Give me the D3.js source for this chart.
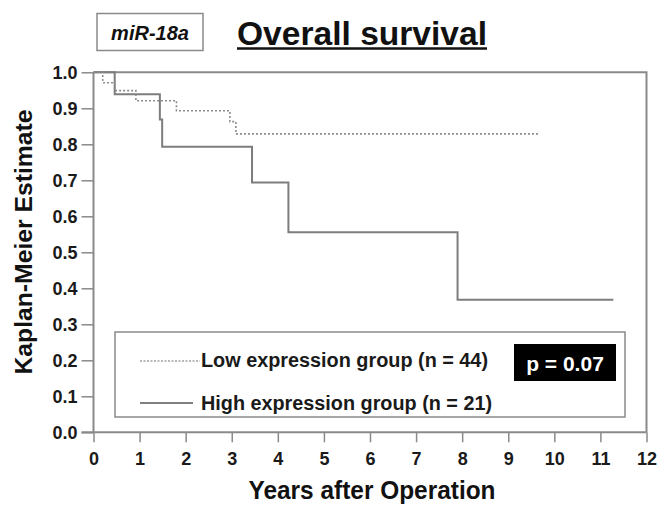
<!DOCTYPE html>
<html>
<head>
<meta charset="utf-8">
<script src="https://cdn.jsdelivr.net/npm/d3@7"></script>
<style>
  body { margin: 0; background: #fff; }
  text { font-family: "Liberation Sans", Arial, sans-serif; }
</style>
</head>
<body>
<svg id="km" width="661" height="506"></svg>
<script>
// step points (time in years, survival)
const lowTimes = [0, 0.20, 0.46, 0.92, 1.80, 2.96, 3.09, 9.69];
const lowSurv = [1.0, 0.971, 0.949, 0.921, 0.893, 0.863, 0.829, 0.829];
const highTimes = [0, 0.46, 1.44, 1.49, 3.44, 4.23, 7.90, 11.28];
const highSurv = [1.0, 0.939, 0.869, 0.793, 0.694, 0.556, 0.368, 0.368];
const xTicks = [0, 1, 2, 3, 4, 5, 6, 7, 8, 9, 10, 11, 12];
const yTicks = [0, 0.1, 0.2, 0.3, 0.4, 0.5, 0.6, 0.7, 0.8, 0.9, 1.0];
const legendLabels = ['Low expression group (n = 44)', 'High expression group (n = 21)'];
const pLabel = 'p = 0.07';

const svg = d3.select('#km');
const frame = '#8a8a8a';

var x = d3.scaleLinear().domain([0, 12]).range([93.5, 646.5]);
var y = d3.scaleLinear().domain([0, 1]).range([432.3, 72.3]);

// plot frame (top + right)
svg.append('path')
    .attr('d', `M${x(0)},${y(1)}H${x(12)}V${y(0)}`)
    .attr('fill', 'none').attr('stroke', frame).attr('stroke-width', 2);

// axes
const xAxis = svg.append('g')
    .attr('transform', `translate(0,${y(0)})`)
    .call(d3.axisBottom(x).tickValues(xTicks).tickSize(10).tickPadding(10).tickFormat(d3.format('d')));
const yAxis = svg.append('g')
    .attr('transform', `translate(${x(0)},0)`)
    .call(d3.axisLeft(y).tickValues(yTicks).tickSize(12).tickPadding(4).tickFormat(d3.format('.1f')));

[xAxis, yAxis].forEach(function(a) {
    a.attr('font-size', null).attr('font-family', null);
    a.select('.domain').attr('stroke', frame).attr('stroke-width', 2);
    a.selectAll('.tick line').attr('stroke', frame).attr('stroke-width', 1.5);
    a.selectAll('.tick text')
        .attr('fill', '#1a1a1a')
        .style('font-size', '18px')
        .style('font-weight', 'bold');
});
yAxis.select('.domain').attr('d', `M0,${y(1)}V${y(0)}`);
xAxis.select('.domain').attr('d', `M${x(0) - 12},0H${x(12)}`);

// curves
var Gen = d3.line()
    .x((p) => x(p[0]))
    .y((p) => y(p[1]))
    .curve(d3.curveStepAfter);

svg.append('path').datum(d3.zip(highTimes, highSurv))
    .attr('fill', 'none').attr('stroke', '#7d7d7d').attr('stroke-width', 2)
    .attr('d', Gen);
svg.append('path').datum(d3.zip(lowTimes, lowSurv))
    .attr('fill', 'none').attr('stroke', '#8c8c8c').attr('stroke-width', 1.6)
    .attr('stroke-dasharray', '2,2')
    .attr('d', Gen);

// legend box
svg.append('rect')
    .attr('x', 115).attr('y', 332).attr('width', 510).attr('height', 85)
    .attr('fill', '#fff').attr('stroke', frame).attr('stroke-width', 1.5);

svg.append('line').attr('x1', 140).attr('x2', 200).attr('y1', 361).attr('y2', 361)
    .attr('stroke', '#a0a0a0').attr('stroke-width', 1.5).attr('stroke-dasharray', '2,1.5');
svg.append('line').attr('x1', 140).attr('x2', 193).attr('y1', 403).attr('y2', 403)
    .attr('stroke', '#555').attr('stroke-width', 1.5);

svg.append('text').attr('x', 201).attr('y', 367)
    .attr('textLength', 287).attr('lengthAdjust', 'spacingAndGlyphs')
    .style('font-size', '20px').style('font-weight', '600').attr('fill', '#1a1a1a')
    .text(legendLabels[0]);
svg.append('text').attr('x', 201).attr('y', 410)
    .attr('textLength', 291).attr('lengthAdjust', 'spacingAndGlyphs')
    .style('font-size', '20px').style('font-weight', '600').attr('fill', '#1a1a1a')
    .text(legendLabels[1]);

// p value
svg.append('rect').attr('x', 514).attr('y', 344).attr('width', 102).attr('height', 37).attr('fill', '#000');
svg.append('text').attr('x', 565).attr('y', 371).attr('text-anchor', 'middle')
    .style('font-size', '21px').style('font-weight', 'bold').attr('fill', '#fff')
    .text(pLabel);

// axis titles
svg.append('text').attr('x', 372).attr('y', 499)
    .attr('text-anchor', 'middle')
    .attr('textLength', 247).attr('lengthAdjust', 'spacingAndGlyphs')
    .style('font-size', '25px').style('font-weight', 'bold').attr('fill', '#111')
    .text('Years after Operation');
svg.append('text')
    .attr('transform', 'translate(32,242) rotate(-90)')
    .attr('text-anchor', 'middle')
    .attr('textLength', 265).attr('lengthAdjust', 'spacingAndGlyphs')
    .style('font-size', '24px').style('font-weight', 'bold').attr('fill', '#111')
    .text('Kaplan-Meier Estimate');

// header
svg.append('rect').attr('x', 97).attr('y', 13.5).attr('width', 106).attr('height', 37)
    .attr('fill', '#fff').attr('stroke', frame).attr('stroke-width', 1.5);
svg.append('text').attr('x', 150).attr('y', 40).attr('text-anchor', 'middle')
    .style('font-size', '20px').style('font-weight', 'bold').style('font-style', 'italic').attr('fill', '#111')
    .text('miR-18a');

svg.append('text').attr('x', 237).attr('y', 45)
    .attr('textLength', 250).attr('lengthAdjust', 'spacingAndGlyphs')
    .style('font-size', '33px').style('font-weight', 'bold').attr('fill', '#111')
    .text('Overall survival');
svg.append('line').attr('x1', 237).attr('x2', 487).attr('y1', 48.5).attr('y2', 48.5)
    .attr('stroke', '#111').attr('stroke-width', 2.5);
</script>
</body>
</html>
